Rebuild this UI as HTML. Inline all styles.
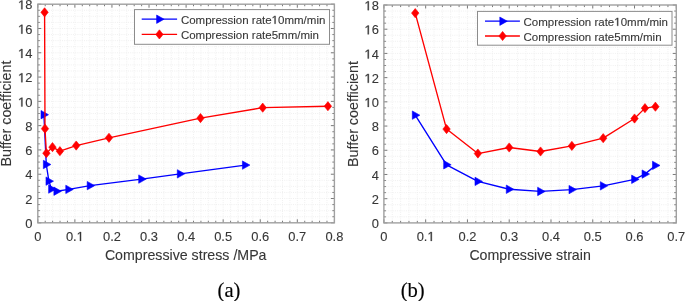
<!DOCTYPE html>
<html><head><meta charset="utf-8"><style>
html,body{margin:0;padding:0;background:#fff;}
body{width:685px;height:301px;overflow:hidden;}
svg{display:block;filter:blur(0.35px);}
.g{stroke:#ececec;stroke-width:0.8;stroke-dasharray:1 1.2;}
.t{stroke:#7a7a7a;stroke-width:1;}
.box{fill:none;stroke:#a0a0a0;stroke-width:1.4;}
.lg{stroke:#8c8c8c;stroke-width:1;}
text{font-family:"Liberation Sans", sans-serif;fill:#363636;stroke:#363636;stroke-width:0.1px;}
.tl{font-size:12.9px;}
.al{font-size:14.2px;}
.yl{font-size:14.3px;}
.lt{font-size:11.5px;}
.one{fill:#363636;stroke:#363636;}
.h{fill:transparent;stroke:none;}
.cap{font-family:"Liberation Serif", serif;font-size:20.6px;fill:#000;stroke:#000;stroke-width:0.15px;}
</style></head><body>
<svg width="685" height="301" viewBox="0 0 685 301">
<line x1="45.21" y1="4.20" x2="45.21" y2="222.80" class="g"/>
<line x1="52.63" y1="4.20" x2="52.63" y2="222.80" class="g"/>
<line x1="60.04" y1="4.20" x2="60.04" y2="222.80" class="g"/>
<line x1="67.46" y1="4.20" x2="67.46" y2="222.80" class="g"/>
<line x1="74.88" y1="4.20" x2="74.88" y2="222.80" class="g"/>
<line x1="82.29" y1="4.20" x2="82.29" y2="222.80" class="g"/>
<line x1="89.70" y1="4.20" x2="89.70" y2="222.80" class="g"/>
<line x1="97.12" y1="4.20" x2="97.12" y2="222.80" class="g"/>
<line x1="104.53" y1="4.20" x2="104.53" y2="222.80" class="g"/>
<line x1="111.95" y1="4.20" x2="111.95" y2="222.80" class="g"/>
<line x1="119.36" y1="4.20" x2="119.36" y2="222.80" class="g"/>
<line x1="126.78" y1="4.20" x2="126.78" y2="222.80" class="g"/>
<line x1="134.19" y1="4.20" x2="134.19" y2="222.80" class="g"/>
<line x1="141.61" y1="4.20" x2="141.61" y2="222.80" class="g"/>
<line x1="149.02" y1="4.20" x2="149.02" y2="222.80" class="g"/>
<line x1="156.44" y1="4.20" x2="156.44" y2="222.80" class="g"/>
<line x1="163.85" y1="4.20" x2="163.85" y2="222.80" class="g"/>
<line x1="171.27" y1="4.20" x2="171.27" y2="222.80" class="g"/>
<line x1="178.69" y1="4.20" x2="178.69" y2="222.80" class="g"/>
<line x1="186.10" y1="4.20" x2="186.10" y2="222.80" class="g"/>
<line x1="193.51" y1="4.20" x2="193.51" y2="222.80" class="g"/>
<line x1="200.93" y1="4.20" x2="200.93" y2="222.80" class="g"/>
<line x1="208.34" y1="4.20" x2="208.34" y2="222.80" class="g"/>
<line x1="215.76" y1="4.20" x2="215.76" y2="222.80" class="g"/>
<line x1="223.17" y1="4.20" x2="223.17" y2="222.80" class="g"/>
<line x1="230.59" y1="4.20" x2="230.59" y2="222.80" class="g"/>
<line x1="238.00" y1="4.20" x2="238.00" y2="222.80" class="g"/>
<line x1="245.42" y1="4.20" x2="245.42" y2="222.80" class="g"/>
<line x1="252.83" y1="4.20" x2="252.83" y2="222.80" class="g"/>
<line x1="260.25" y1="4.20" x2="260.25" y2="222.80" class="g"/>
<line x1="267.66" y1="4.20" x2="267.66" y2="222.80" class="g"/>
<line x1="275.08" y1="4.20" x2="275.08" y2="222.80" class="g"/>
<line x1="282.49" y1="4.20" x2="282.49" y2="222.80" class="g"/>
<line x1="289.91" y1="4.20" x2="289.91" y2="222.80" class="g"/>
<line x1="297.32" y1="4.20" x2="297.32" y2="222.80" class="g"/>
<line x1="304.74" y1="4.20" x2="304.74" y2="222.80" class="g"/>
<line x1="312.15" y1="4.20" x2="312.15" y2="222.80" class="g"/>
<line x1="319.57" y1="4.20" x2="319.57" y2="222.80" class="g"/>
<line x1="326.98" y1="4.20" x2="326.98" y2="222.80" class="g"/>
<line x1="37.80" y1="216.73" x2="334.40" y2="216.73" class="g"/>
<line x1="37.80" y1="210.66" x2="334.40" y2="210.66" class="g"/>
<line x1="37.80" y1="204.58" x2="334.40" y2="204.58" class="g"/>
<line x1="37.80" y1="198.51" x2="334.40" y2="198.51" class="g"/>
<line x1="37.80" y1="192.44" x2="334.40" y2="192.44" class="g"/>
<line x1="37.80" y1="186.37" x2="334.40" y2="186.37" class="g"/>
<line x1="37.80" y1="180.29" x2="334.40" y2="180.29" class="g"/>
<line x1="37.80" y1="174.22" x2="334.40" y2="174.22" class="g"/>
<line x1="37.80" y1="168.15" x2="334.40" y2="168.15" class="g"/>
<line x1="37.80" y1="162.08" x2="334.40" y2="162.08" class="g"/>
<line x1="37.80" y1="156.01" x2="334.40" y2="156.01" class="g"/>
<line x1="37.80" y1="149.93" x2="334.40" y2="149.93" class="g"/>
<line x1="37.80" y1="143.86" x2="334.40" y2="143.86" class="g"/>
<line x1="37.80" y1="137.79" x2="334.40" y2="137.79" class="g"/>
<line x1="37.80" y1="131.72" x2="334.40" y2="131.72" class="g"/>
<line x1="37.80" y1="125.64" x2="334.40" y2="125.64" class="g"/>
<line x1="37.80" y1="119.57" x2="334.40" y2="119.57" class="g"/>
<line x1="37.80" y1="113.50" x2="334.40" y2="113.50" class="g"/>
<line x1="37.80" y1="107.43" x2="334.40" y2="107.43" class="g"/>
<line x1="37.80" y1="101.36" x2="334.40" y2="101.36" class="g"/>
<line x1="37.80" y1="95.28" x2="334.40" y2="95.28" class="g"/>
<line x1="37.80" y1="89.21" x2="334.40" y2="89.21" class="g"/>
<line x1="37.80" y1="83.14" x2="334.40" y2="83.14" class="g"/>
<line x1="37.80" y1="77.07" x2="334.40" y2="77.07" class="g"/>
<line x1="37.80" y1="70.99" x2="334.40" y2="70.99" class="g"/>
<line x1="37.80" y1="64.92" x2="334.40" y2="64.92" class="g"/>
<line x1="37.80" y1="58.85" x2="334.40" y2="58.85" class="g"/>
<line x1="37.80" y1="52.78" x2="334.40" y2="52.78" class="g"/>
<line x1="37.80" y1="46.71" x2="334.40" y2="46.71" class="g"/>
<line x1="37.80" y1="40.63" x2="334.40" y2="40.63" class="g"/>
<line x1="37.80" y1="34.56" x2="334.40" y2="34.56" class="g"/>
<line x1="37.80" y1="28.49" x2="334.40" y2="28.49" class="g"/>
<line x1="37.80" y1="22.42" x2="334.40" y2="22.42" class="g"/>
<line x1="37.80" y1="16.34" x2="334.40" y2="16.34" class="g"/>
<line x1="37.80" y1="10.27" x2="334.40" y2="10.27" class="g"/>
<line x1="37.80" y1="222.80" x2="37.80" y2="219.30" class="t"/>
<line x1="37.80" y1="4.20" x2="37.80" y2="7.70" class="t"/>
<line x1="45.21" y1="222.80" x2="45.21" y2="220.80" class="t"/>
<line x1="45.21" y1="4.20" x2="45.21" y2="6.20" class="t"/>
<line x1="52.63" y1="222.80" x2="52.63" y2="220.80" class="t"/>
<line x1="52.63" y1="4.20" x2="52.63" y2="6.20" class="t"/>
<line x1="60.04" y1="222.80" x2="60.04" y2="220.80" class="t"/>
<line x1="60.04" y1="4.20" x2="60.04" y2="6.20" class="t"/>
<line x1="67.46" y1="222.80" x2="67.46" y2="220.80" class="t"/>
<line x1="67.46" y1="4.20" x2="67.46" y2="6.20" class="t"/>
<line x1="74.88" y1="222.80" x2="74.88" y2="219.30" class="t"/>
<line x1="74.88" y1="4.20" x2="74.88" y2="7.70" class="t"/>
<line x1="82.29" y1="222.80" x2="82.29" y2="220.80" class="t"/>
<line x1="82.29" y1="4.20" x2="82.29" y2="6.20" class="t"/>
<line x1="89.70" y1="222.80" x2="89.70" y2="220.80" class="t"/>
<line x1="89.70" y1="4.20" x2="89.70" y2="6.20" class="t"/>
<line x1="97.12" y1="222.80" x2="97.12" y2="220.80" class="t"/>
<line x1="97.12" y1="4.20" x2="97.12" y2="6.20" class="t"/>
<line x1="104.53" y1="222.80" x2="104.53" y2="220.80" class="t"/>
<line x1="104.53" y1="4.20" x2="104.53" y2="6.20" class="t"/>
<line x1="111.95" y1="222.80" x2="111.95" y2="219.30" class="t"/>
<line x1="111.95" y1="4.20" x2="111.95" y2="7.70" class="t"/>
<line x1="119.36" y1="222.80" x2="119.36" y2="220.80" class="t"/>
<line x1="119.36" y1="4.20" x2="119.36" y2="6.20" class="t"/>
<line x1="126.78" y1="222.80" x2="126.78" y2="220.80" class="t"/>
<line x1="126.78" y1="4.20" x2="126.78" y2="6.20" class="t"/>
<line x1="134.19" y1="222.80" x2="134.19" y2="220.80" class="t"/>
<line x1="134.19" y1="4.20" x2="134.19" y2="6.20" class="t"/>
<line x1="141.61" y1="222.80" x2="141.61" y2="220.80" class="t"/>
<line x1="141.61" y1="4.20" x2="141.61" y2="6.20" class="t"/>
<line x1="149.02" y1="222.80" x2="149.02" y2="219.30" class="t"/>
<line x1="149.02" y1="4.20" x2="149.02" y2="7.70" class="t"/>
<line x1="156.44" y1="222.80" x2="156.44" y2="220.80" class="t"/>
<line x1="156.44" y1="4.20" x2="156.44" y2="6.20" class="t"/>
<line x1="163.85" y1="222.80" x2="163.85" y2="220.80" class="t"/>
<line x1="163.85" y1="4.20" x2="163.85" y2="6.20" class="t"/>
<line x1="171.27" y1="222.80" x2="171.27" y2="220.80" class="t"/>
<line x1="171.27" y1="4.20" x2="171.27" y2="6.20" class="t"/>
<line x1="178.69" y1="222.80" x2="178.69" y2="220.80" class="t"/>
<line x1="178.69" y1="4.20" x2="178.69" y2="6.20" class="t"/>
<line x1="186.10" y1="222.80" x2="186.10" y2="219.30" class="t"/>
<line x1="186.10" y1="4.20" x2="186.10" y2="7.70" class="t"/>
<line x1="193.51" y1="222.80" x2="193.51" y2="220.80" class="t"/>
<line x1="193.51" y1="4.20" x2="193.51" y2="6.20" class="t"/>
<line x1="200.93" y1="222.80" x2="200.93" y2="220.80" class="t"/>
<line x1="200.93" y1="4.20" x2="200.93" y2="6.20" class="t"/>
<line x1="208.34" y1="222.80" x2="208.34" y2="220.80" class="t"/>
<line x1="208.34" y1="4.20" x2="208.34" y2="6.20" class="t"/>
<line x1="215.76" y1="222.80" x2="215.76" y2="220.80" class="t"/>
<line x1="215.76" y1="4.20" x2="215.76" y2="6.20" class="t"/>
<line x1="223.17" y1="222.80" x2="223.17" y2="219.30" class="t"/>
<line x1="223.17" y1="4.20" x2="223.17" y2="7.70" class="t"/>
<line x1="230.59" y1="222.80" x2="230.59" y2="220.80" class="t"/>
<line x1="230.59" y1="4.20" x2="230.59" y2="6.20" class="t"/>
<line x1="238.00" y1="222.80" x2="238.00" y2="220.80" class="t"/>
<line x1="238.00" y1="4.20" x2="238.00" y2="6.20" class="t"/>
<line x1="245.42" y1="222.80" x2="245.42" y2="220.80" class="t"/>
<line x1="245.42" y1="4.20" x2="245.42" y2="6.20" class="t"/>
<line x1="252.83" y1="222.80" x2="252.83" y2="220.80" class="t"/>
<line x1="252.83" y1="4.20" x2="252.83" y2="6.20" class="t"/>
<line x1="260.25" y1="222.80" x2="260.25" y2="219.30" class="t"/>
<line x1="260.25" y1="4.20" x2="260.25" y2="7.70" class="t"/>
<line x1="267.66" y1="222.80" x2="267.66" y2="220.80" class="t"/>
<line x1="267.66" y1="4.20" x2="267.66" y2="6.20" class="t"/>
<line x1="275.08" y1="222.80" x2="275.08" y2="220.80" class="t"/>
<line x1="275.08" y1="4.20" x2="275.08" y2="6.20" class="t"/>
<line x1="282.49" y1="222.80" x2="282.49" y2="220.80" class="t"/>
<line x1="282.49" y1="4.20" x2="282.49" y2="6.20" class="t"/>
<line x1="289.91" y1="222.80" x2="289.91" y2="220.80" class="t"/>
<line x1="289.91" y1="4.20" x2="289.91" y2="6.20" class="t"/>
<line x1="297.32" y1="222.80" x2="297.32" y2="219.30" class="t"/>
<line x1="297.32" y1="4.20" x2="297.32" y2="7.70" class="t"/>
<line x1="304.74" y1="222.80" x2="304.74" y2="220.80" class="t"/>
<line x1="304.74" y1="4.20" x2="304.74" y2="6.20" class="t"/>
<line x1="312.15" y1="222.80" x2="312.15" y2="220.80" class="t"/>
<line x1="312.15" y1="4.20" x2="312.15" y2="6.20" class="t"/>
<line x1="319.57" y1="222.80" x2="319.57" y2="220.80" class="t"/>
<line x1="319.57" y1="4.20" x2="319.57" y2="6.20" class="t"/>
<line x1="326.98" y1="222.80" x2="326.98" y2="220.80" class="t"/>
<line x1="326.98" y1="4.20" x2="326.98" y2="6.20" class="t"/>
<line x1="334.40" y1="222.80" x2="334.40" y2="219.30" class="t"/>
<line x1="334.40" y1="4.20" x2="334.40" y2="7.70" class="t"/>
<line x1="37.80" y1="222.80" x2="41.30" y2="222.80" class="t"/>
<line x1="334.40" y1="222.80" x2="330.90" y2="222.80" class="t"/>
<line x1="37.80" y1="216.73" x2="39.80" y2="216.73" class="t"/>
<line x1="334.40" y1="216.73" x2="332.40" y2="216.73" class="t"/>
<line x1="37.80" y1="210.66" x2="39.80" y2="210.66" class="t"/>
<line x1="334.40" y1="210.66" x2="332.40" y2="210.66" class="t"/>
<line x1="37.80" y1="204.58" x2="39.80" y2="204.58" class="t"/>
<line x1="334.40" y1="204.58" x2="332.40" y2="204.58" class="t"/>
<line x1="37.80" y1="198.51" x2="41.30" y2="198.51" class="t"/>
<line x1="334.40" y1="198.51" x2="330.90" y2="198.51" class="t"/>
<line x1="37.80" y1="192.44" x2="39.80" y2="192.44" class="t"/>
<line x1="334.40" y1="192.44" x2="332.40" y2="192.44" class="t"/>
<line x1="37.80" y1="186.37" x2="39.80" y2="186.37" class="t"/>
<line x1="334.40" y1="186.37" x2="332.40" y2="186.37" class="t"/>
<line x1="37.80" y1="180.29" x2="39.80" y2="180.29" class="t"/>
<line x1="334.40" y1="180.29" x2="332.40" y2="180.29" class="t"/>
<line x1="37.80" y1="174.22" x2="41.30" y2="174.22" class="t"/>
<line x1="334.40" y1="174.22" x2="330.90" y2="174.22" class="t"/>
<line x1="37.80" y1="168.15" x2="39.80" y2="168.15" class="t"/>
<line x1="334.40" y1="168.15" x2="332.40" y2="168.15" class="t"/>
<line x1="37.80" y1="162.08" x2="39.80" y2="162.08" class="t"/>
<line x1="334.40" y1="162.08" x2="332.40" y2="162.08" class="t"/>
<line x1="37.80" y1="156.01" x2="39.80" y2="156.01" class="t"/>
<line x1="334.40" y1="156.01" x2="332.40" y2="156.01" class="t"/>
<line x1="37.80" y1="149.93" x2="41.30" y2="149.93" class="t"/>
<line x1="334.40" y1="149.93" x2="330.90" y2="149.93" class="t"/>
<line x1="37.80" y1="143.86" x2="39.80" y2="143.86" class="t"/>
<line x1="334.40" y1="143.86" x2="332.40" y2="143.86" class="t"/>
<line x1="37.80" y1="137.79" x2="39.80" y2="137.79" class="t"/>
<line x1="334.40" y1="137.79" x2="332.40" y2="137.79" class="t"/>
<line x1="37.80" y1="131.72" x2="39.80" y2="131.72" class="t"/>
<line x1="334.40" y1="131.72" x2="332.40" y2="131.72" class="t"/>
<line x1="37.80" y1="125.64" x2="41.30" y2="125.64" class="t"/>
<line x1="334.40" y1="125.64" x2="330.90" y2="125.64" class="t"/>
<line x1="37.80" y1="119.57" x2="39.80" y2="119.57" class="t"/>
<line x1="334.40" y1="119.57" x2="332.40" y2="119.57" class="t"/>
<line x1="37.80" y1="113.50" x2="39.80" y2="113.50" class="t"/>
<line x1="334.40" y1="113.50" x2="332.40" y2="113.50" class="t"/>
<line x1="37.80" y1="107.43" x2="39.80" y2="107.43" class="t"/>
<line x1="334.40" y1="107.43" x2="332.40" y2="107.43" class="t"/>
<line x1="37.80" y1="101.36" x2="41.30" y2="101.36" class="t"/>
<line x1="334.40" y1="101.36" x2="330.90" y2="101.36" class="t"/>
<line x1="37.80" y1="95.28" x2="39.80" y2="95.28" class="t"/>
<line x1="334.40" y1="95.28" x2="332.40" y2="95.28" class="t"/>
<line x1="37.80" y1="89.21" x2="39.80" y2="89.21" class="t"/>
<line x1="334.40" y1="89.21" x2="332.40" y2="89.21" class="t"/>
<line x1="37.80" y1="83.14" x2="39.80" y2="83.14" class="t"/>
<line x1="334.40" y1="83.14" x2="332.40" y2="83.14" class="t"/>
<line x1="37.80" y1="77.07" x2="41.30" y2="77.07" class="t"/>
<line x1="334.40" y1="77.07" x2="330.90" y2="77.07" class="t"/>
<line x1="37.80" y1="70.99" x2="39.80" y2="70.99" class="t"/>
<line x1="334.40" y1="70.99" x2="332.40" y2="70.99" class="t"/>
<line x1="37.80" y1="64.92" x2="39.80" y2="64.92" class="t"/>
<line x1="334.40" y1="64.92" x2="332.40" y2="64.92" class="t"/>
<line x1="37.80" y1="58.85" x2="39.80" y2="58.85" class="t"/>
<line x1="334.40" y1="58.85" x2="332.40" y2="58.85" class="t"/>
<line x1="37.80" y1="52.78" x2="41.30" y2="52.78" class="t"/>
<line x1="334.40" y1="52.78" x2="330.90" y2="52.78" class="t"/>
<line x1="37.80" y1="46.71" x2="39.80" y2="46.71" class="t"/>
<line x1="334.40" y1="46.71" x2="332.40" y2="46.71" class="t"/>
<line x1="37.80" y1="40.63" x2="39.80" y2="40.63" class="t"/>
<line x1="334.40" y1="40.63" x2="332.40" y2="40.63" class="t"/>
<line x1="37.80" y1="34.56" x2="39.80" y2="34.56" class="t"/>
<line x1="334.40" y1="34.56" x2="332.40" y2="34.56" class="t"/>
<line x1="37.80" y1="28.49" x2="41.30" y2="28.49" class="t"/>
<line x1="334.40" y1="28.49" x2="330.90" y2="28.49" class="t"/>
<line x1="37.80" y1="22.42" x2="39.80" y2="22.42" class="t"/>
<line x1="334.40" y1="22.42" x2="332.40" y2="22.42" class="t"/>
<line x1="37.80" y1="16.34" x2="39.80" y2="16.34" class="t"/>
<line x1="334.40" y1="16.34" x2="332.40" y2="16.34" class="t"/>
<line x1="37.80" y1="10.27" x2="39.80" y2="10.27" class="t"/>
<line x1="334.40" y1="10.27" x2="332.40" y2="10.27" class="t"/>
<line x1="37.80" y1="4.20" x2="41.30" y2="4.20" class="t"/>
<line x1="334.40" y1="4.20" x2="330.90" y2="4.20" class="t"/>
<rect x="37.80" y="4.20" width="296.60" height="218.60" class="box"/>
<text x="37.80" y="240.9" class="tl" text-anchor="middle">0</text>
<text id="t1" x="74.88" y="240.9" class="tl" text-anchor="middle">0.<tspan class="h">1</tspan></text>
<text x="111.95" y="240.9" class="tl" text-anchor="middle">0.2</text>
<text x="149.03" y="240.9" class="tl" text-anchor="middle">0.3</text>
<text x="186.10" y="240.9" class="tl" text-anchor="middle">0.4</text>
<text x="223.17" y="240.9" class="tl" text-anchor="middle">0.5</text>
<text x="260.25" y="240.9" class="tl" text-anchor="middle">0.6</text>
<text x="297.32" y="240.9" class="tl" text-anchor="middle">0.7</text>
<text x="334.40" y="240.9" class="tl" text-anchor="middle">0.8</text>
<text x="32.40" y="227.95" class="tl" text-anchor="end">0</text>
<text x="32.40" y="203.66" class="tl" text-anchor="end">2</text>
<text x="32.40" y="179.37" class="tl" text-anchor="end">4</text>
<text x="32.40" y="155.08" class="tl" text-anchor="end">6</text>
<text x="32.40" y="130.79" class="tl" text-anchor="end">8</text>
<text id="t2" x="32.40" y="106.51" class="tl" text-anchor="end"><tspan class="h">1</tspan>0</text>
<text id="t3" x="32.40" y="82.22" class="tl" text-anchor="end"><tspan class="h">1</tspan>2</text>
<text id="t4" x="32.40" y="57.93" class="tl" text-anchor="end"><tspan class="h">1</tspan>4</text>
<text id="t5" x="32.40" y="33.64" class="tl" text-anchor="end"><tspan class="h">1</tspan>6</text>
<text id="t6" x="32.40" y="9.35" class="tl" text-anchor="end"><tspan class="h">1</tspan>8</text>
<path d="M43.90 114.71 L46.29 164.51 L48.89 181.14 L51.52 189.04 L56.78 191.22 L68.68 189.40 L90.11 185.64 L141.61 179.08 L180.21 173.86 L245.31 165.11" fill="none" stroke="#0000ff" stroke-width="1.35" stroke-linejoin="round"/>
<path d="M41.00 110.51L48.50 114.71L41.00 118.91Z" fill="#0000ff" stroke="#0000ff" stroke-width="0.6"/>
<path d="M43.39 160.31L50.89 164.51L43.39 168.71Z" fill="#0000ff" stroke="#0000ff" stroke-width="0.6"/>
<path d="M45.99 176.94L53.49 181.14L45.99 185.34Z" fill="#0000ff" stroke="#0000ff" stroke-width="0.6"/>
<path d="M48.62 184.84L56.12 189.04L48.62 193.24Z" fill="#0000ff" stroke="#0000ff" stroke-width="0.6"/>
<path d="M53.88 187.02L61.38 191.22L53.88 195.42Z" fill="#0000ff" stroke="#0000ff" stroke-width="0.6"/>
<path d="M65.78 185.20L73.28 189.40L65.78 193.60Z" fill="#0000ff" stroke="#0000ff" stroke-width="0.6"/>
<path d="M87.21 181.44L94.71 185.64L87.21 189.84Z" fill="#0000ff" stroke="#0000ff" stroke-width="0.6"/>
<path d="M138.71 174.88L146.21 179.08L138.71 183.28Z" fill="#0000ff" stroke="#0000ff" stroke-width="0.6"/>
<path d="M177.31 169.66L184.81 173.86L177.31 178.06Z" fill="#0000ff" stroke="#0000ff" stroke-width="0.6"/>
<path d="M242.41 160.91L249.91 165.11L242.41 169.31Z" fill="#0000ff" stroke="#0000ff" stroke-width="0.6"/>
<path d="M44.58 12.34 L44.99 128.68 L46.40 153.21 L52.48 147.14 L59.90 151.15 L76.21 145.56 L108.98 137.79 L200.49 118.11 L262.70 107.67 L327.91 106.21" fill="none" stroke="#ff0000" stroke-width="1.35" stroke-linejoin="round"/>
<path d="M44.58 7.74L48.28 12.34L44.58 16.94L40.88 12.34Z" fill="#ff0000" stroke="#ff0000" stroke-width="0.6"/>
<path d="M44.99 124.08L48.69 128.68L44.99 133.28L41.29 128.68Z" fill="#ff0000" stroke="#ff0000" stroke-width="0.6"/>
<path d="M46.40 148.61L50.10 153.21L46.40 157.81L42.70 153.21Z" fill="#ff0000" stroke="#ff0000" stroke-width="0.6"/>
<path d="M52.48 142.54L56.18 147.14L52.48 151.74L48.78 147.14Z" fill="#ff0000" stroke="#ff0000" stroke-width="0.6"/>
<path d="M59.90 146.55L63.60 151.15L59.90 155.75L56.20 151.15Z" fill="#ff0000" stroke="#ff0000" stroke-width="0.6"/>
<path d="M76.21 140.96L79.91 145.56L76.21 150.16L72.51 145.56Z" fill="#ff0000" stroke="#ff0000" stroke-width="0.6"/>
<path d="M108.98 133.19L112.68 137.79L108.98 142.39L105.28 137.79Z" fill="#ff0000" stroke="#ff0000" stroke-width="0.6"/>
<path d="M200.49 113.51L204.19 118.11L200.49 122.71L196.79 118.11Z" fill="#ff0000" stroke="#ff0000" stroke-width="0.6"/>
<path d="M262.70 103.07L266.40 107.67L262.70 112.27L259.00 107.67Z" fill="#ff0000" stroke="#ff0000" stroke-width="0.6"/>
<path d="M327.91 101.61L331.61 106.21L327.91 110.81L324.21 106.21Z" fill="#ff0000" stroke="#ff0000" stroke-width="0.6"/>
<rect x="134.5" y="9.6" width="195.00" height="34.70" fill="#fff" class="lg"/>
<line x1="141.7" y1="19.2" x2="177.1" y2="19.2" stroke="#0000ff" stroke-width="1.3"/>
<path d="M156.60 15.00L164.10 19.20L156.60 23.40Z" fill="#0000ff" stroke="#0000ff" stroke-width="0.6"/>
<line x1="141.7" y1="34.4" x2="177.1" y2="34.4" stroke="#ff0000" stroke-width="1.3"/>
<path d="M159.40 29.80L163.10 34.40L159.40 39.00L155.70 34.40Z" fill="#ff0000" stroke="#ff0000" stroke-width="0.6"/>
<text id="t7" x="180.9" y="23.80" class="lt">Compression rate<tspan class="h">1</tspan>0mm/min</text>
<text x="180.9" y="39.00" class="lt">Compression rate5mm/min</text>
<line x1="392.25" y1="5.00" x2="392.25" y2="222.90" class="g"/>
<line x1="400.61" y1="5.00" x2="400.61" y2="222.90" class="g"/>
<line x1="408.96" y1="5.00" x2="408.96" y2="222.90" class="g"/>
<line x1="417.32" y1="5.00" x2="417.32" y2="222.90" class="g"/>
<line x1="425.67" y1="5.00" x2="425.67" y2="222.90" class="g"/>
<line x1="434.03" y1="5.00" x2="434.03" y2="222.90" class="g"/>
<line x1="442.38" y1="5.00" x2="442.38" y2="222.90" class="g"/>
<line x1="450.73" y1="5.00" x2="450.73" y2="222.90" class="g"/>
<line x1="459.09" y1="5.00" x2="459.09" y2="222.90" class="g"/>
<line x1="467.44" y1="5.00" x2="467.44" y2="222.90" class="g"/>
<line x1="475.80" y1="5.00" x2="475.80" y2="222.90" class="g"/>
<line x1="484.15" y1="5.00" x2="484.15" y2="222.90" class="g"/>
<line x1="492.51" y1="5.00" x2="492.51" y2="222.90" class="g"/>
<line x1="500.86" y1="5.00" x2="500.86" y2="222.90" class="g"/>
<line x1="509.21" y1="5.00" x2="509.21" y2="222.90" class="g"/>
<line x1="517.57" y1="5.00" x2="517.57" y2="222.90" class="g"/>
<line x1="525.92" y1="5.00" x2="525.92" y2="222.90" class="g"/>
<line x1="534.28" y1="5.00" x2="534.28" y2="222.90" class="g"/>
<line x1="542.63" y1="5.00" x2="542.63" y2="222.90" class="g"/>
<line x1="550.99" y1="5.00" x2="550.99" y2="222.90" class="g"/>
<line x1="559.34" y1="5.00" x2="559.34" y2="222.90" class="g"/>
<line x1="567.69" y1="5.00" x2="567.69" y2="222.90" class="g"/>
<line x1="576.05" y1="5.00" x2="576.05" y2="222.90" class="g"/>
<line x1="584.40" y1="5.00" x2="584.40" y2="222.90" class="g"/>
<line x1="592.76" y1="5.00" x2="592.76" y2="222.90" class="g"/>
<line x1="601.11" y1="5.00" x2="601.11" y2="222.90" class="g"/>
<line x1="609.47" y1="5.00" x2="609.47" y2="222.90" class="g"/>
<line x1="617.82" y1="5.00" x2="617.82" y2="222.90" class="g"/>
<line x1="626.17" y1="5.00" x2="626.17" y2="222.90" class="g"/>
<line x1="634.53" y1="5.00" x2="634.53" y2="222.90" class="g"/>
<line x1="642.88" y1="5.00" x2="642.88" y2="222.90" class="g"/>
<line x1="651.24" y1="5.00" x2="651.24" y2="222.90" class="g"/>
<line x1="659.59" y1="5.00" x2="659.59" y2="222.90" class="g"/>
<line x1="667.95" y1="5.00" x2="667.95" y2="222.90" class="g"/>
<line x1="383.90" y1="216.85" x2="676.30" y2="216.85" class="g"/>
<line x1="383.90" y1="210.79" x2="676.30" y2="210.79" class="g"/>
<line x1="383.90" y1="204.74" x2="676.30" y2="204.74" class="g"/>
<line x1="383.90" y1="198.69" x2="676.30" y2="198.69" class="g"/>
<line x1="383.90" y1="192.64" x2="676.30" y2="192.64" class="g"/>
<line x1="383.90" y1="186.58" x2="676.30" y2="186.58" class="g"/>
<line x1="383.90" y1="180.53" x2="676.30" y2="180.53" class="g"/>
<line x1="383.90" y1="174.48" x2="676.30" y2="174.48" class="g"/>
<line x1="383.90" y1="168.43" x2="676.30" y2="168.43" class="g"/>
<line x1="383.90" y1="162.37" x2="676.30" y2="162.37" class="g"/>
<line x1="383.90" y1="156.32" x2="676.30" y2="156.32" class="g"/>
<line x1="383.90" y1="150.27" x2="676.30" y2="150.27" class="g"/>
<line x1="383.90" y1="144.21" x2="676.30" y2="144.21" class="g"/>
<line x1="383.90" y1="138.16" x2="676.30" y2="138.16" class="g"/>
<line x1="383.90" y1="132.11" x2="676.30" y2="132.11" class="g"/>
<line x1="383.90" y1="126.06" x2="676.30" y2="126.06" class="g"/>
<line x1="383.90" y1="120.00" x2="676.30" y2="120.00" class="g"/>
<line x1="383.90" y1="113.95" x2="676.30" y2="113.95" class="g"/>
<line x1="383.90" y1="107.90" x2="676.30" y2="107.90" class="g"/>
<line x1="383.90" y1="101.84" x2="676.30" y2="101.84" class="g"/>
<line x1="383.90" y1="95.79" x2="676.30" y2="95.79" class="g"/>
<line x1="383.90" y1="89.74" x2="676.30" y2="89.74" class="g"/>
<line x1="383.90" y1="83.69" x2="676.30" y2="83.69" class="g"/>
<line x1="383.90" y1="77.63" x2="676.30" y2="77.63" class="g"/>
<line x1="383.90" y1="71.58" x2="676.30" y2="71.58" class="g"/>
<line x1="383.90" y1="65.53" x2="676.30" y2="65.53" class="g"/>
<line x1="383.90" y1="59.47" x2="676.30" y2="59.47" class="g"/>
<line x1="383.90" y1="53.42" x2="676.30" y2="53.42" class="g"/>
<line x1="383.90" y1="47.37" x2="676.30" y2="47.37" class="g"/>
<line x1="383.90" y1="41.32" x2="676.30" y2="41.32" class="g"/>
<line x1="383.90" y1="35.26" x2="676.30" y2="35.26" class="g"/>
<line x1="383.90" y1="29.21" x2="676.30" y2="29.21" class="g"/>
<line x1="383.90" y1="23.16" x2="676.30" y2="23.16" class="g"/>
<line x1="383.90" y1="17.11" x2="676.30" y2="17.11" class="g"/>
<line x1="383.90" y1="11.05" x2="676.30" y2="11.05" class="g"/>
<line x1="383.90" y1="222.90" x2="383.90" y2="219.40" class="t"/>
<line x1="383.90" y1="5.00" x2="383.90" y2="8.50" class="t"/>
<line x1="392.25" y1="222.90" x2="392.25" y2="220.90" class="t"/>
<line x1="392.25" y1="5.00" x2="392.25" y2="7.00" class="t"/>
<line x1="400.61" y1="222.90" x2="400.61" y2="220.90" class="t"/>
<line x1="400.61" y1="5.00" x2="400.61" y2="7.00" class="t"/>
<line x1="408.96" y1="222.90" x2="408.96" y2="220.90" class="t"/>
<line x1="408.96" y1="5.00" x2="408.96" y2="7.00" class="t"/>
<line x1="417.32" y1="222.90" x2="417.32" y2="220.90" class="t"/>
<line x1="417.32" y1="5.00" x2="417.32" y2="7.00" class="t"/>
<line x1="425.67" y1="222.90" x2="425.67" y2="219.40" class="t"/>
<line x1="425.67" y1="5.00" x2="425.67" y2="8.50" class="t"/>
<line x1="434.03" y1="222.90" x2="434.03" y2="220.90" class="t"/>
<line x1="434.03" y1="5.00" x2="434.03" y2="7.00" class="t"/>
<line x1="442.38" y1="222.90" x2="442.38" y2="220.90" class="t"/>
<line x1="442.38" y1="5.00" x2="442.38" y2="7.00" class="t"/>
<line x1="450.73" y1="222.90" x2="450.73" y2="220.90" class="t"/>
<line x1="450.73" y1="5.00" x2="450.73" y2="7.00" class="t"/>
<line x1="459.09" y1="222.90" x2="459.09" y2="220.90" class="t"/>
<line x1="459.09" y1="5.00" x2="459.09" y2="7.00" class="t"/>
<line x1="467.44" y1="222.90" x2="467.44" y2="219.40" class="t"/>
<line x1="467.44" y1="5.00" x2="467.44" y2="8.50" class="t"/>
<line x1="475.80" y1="222.90" x2="475.80" y2="220.90" class="t"/>
<line x1="475.80" y1="5.00" x2="475.80" y2="7.00" class="t"/>
<line x1="484.15" y1="222.90" x2="484.15" y2="220.90" class="t"/>
<line x1="484.15" y1="5.00" x2="484.15" y2="7.00" class="t"/>
<line x1="492.51" y1="222.90" x2="492.51" y2="220.90" class="t"/>
<line x1="492.51" y1="5.00" x2="492.51" y2="7.00" class="t"/>
<line x1="500.86" y1="222.90" x2="500.86" y2="220.90" class="t"/>
<line x1="500.86" y1="5.00" x2="500.86" y2="7.00" class="t"/>
<line x1="509.21" y1="222.90" x2="509.21" y2="219.40" class="t"/>
<line x1="509.21" y1="5.00" x2="509.21" y2="8.50" class="t"/>
<line x1="517.57" y1="222.90" x2="517.57" y2="220.90" class="t"/>
<line x1="517.57" y1="5.00" x2="517.57" y2="7.00" class="t"/>
<line x1="525.92" y1="222.90" x2="525.92" y2="220.90" class="t"/>
<line x1="525.92" y1="5.00" x2="525.92" y2="7.00" class="t"/>
<line x1="534.28" y1="222.90" x2="534.28" y2="220.90" class="t"/>
<line x1="534.28" y1="5.00" x2="534.28" y2="7.00" class="t"/>
<line x1="542.63" y1="222.90" x2="542.63" y2="220.90" class="t"/>
<line x1="542.63" y1="5.00" x2="542.63" y2="7.00" class="t"/>
<line x1="550.99" y1="222.90" x2="550.99" y2="219.40" class="t"/>
<line x1="550.99" y1="5.00" x2="550.99" y2="8.50" class="t"/>
<line x1="559.34" y1="222.90" x2="559.34" y2="220.90" class="t"/>
<line x1="559.34" y1="5.00" x2="559.34" y2="7.00" class="t"/>
<line x1="567.69" y1="222.90" x2="567.69" y2="220.90" class="t"/>
<line x1="567.69" y1="5.00" x2="567.69" y2="7.00" class="t"/>
<line x1="576.05" y1="222.90" x2="576.05" y2="220.90" class="t"/>
<line x1="576.05" y1="5.00" x2="576.05" y2="7.00" class="t"/>
<line x1="584.40" y1="222.90" x2="584.40" y2="220.90" class="t"/>
<line x1="584.40" y1="5.00" x2="584.40" y2="7.00" class="t"/>
<line x1="592.76" y1="222.90" x2="592.76" y2="219.40" class="t"/>
<line x1="592.76" y1="5.00" x2="592.76" y2="8.50" class="t"/>
<line x1="601.11" y1="222.90" x2="601.11" y2="220.90" class="t"/>
<line x1="601.11" y1="5.00" x2="601.11" y2="7.00" class="t"/>
<line x1="609.47" y1="222.90" x2="609.47" y2="220.90" class="t"/>
<line x1="609.47" y1="5.00" x2="609.47" y2="7.00" class="t"/>
<line x1="617.82" y1="222.90" x2="617.82" y2="220.90" class="t"/>
<line x1="617.82" y1="5.00" x2="617.82" y2="7.00" class="t"/>
<line x1="626.17" y1="222.90" x2="626.17" y2="220.90" class="t"/>
<line x1="626.17" y1="5.00" x2="626.17" y2="7.00" class="t"/>
<line x1="634.53" y1="222.90" x2="634.53" y2="219.40" class="t"/>
<line x1="634.53" y1="5.00" x2="634.53" y2="8.50" class="t"/>
<line x1="642.88" y1="222.90" x2="642.88" y2="220.90" class="t"/>
<line x1="642.88" y1="5.00" x2="642.88" y2="7.00" class="t"/>
<line x1="651.24" y1="222.90" x2="651.24" y2="220.90" class="t"/>
<line x1="651.24" y1="5.00" x2="651.24" y2="7.00" class="t"/>
<line x1="659.59" y1="222.90" x2="659.59" y2="220.90" class="t"/>
<line x1="659.59" y1="5.00" x2="659.59" y2="7.00" class="t"/>
<line x1="667.95" y1="222.90" x2="667.95" y2="220.90" class="t"/>
<line x1="667.95" y1="5.00" x2="667.95" y2="7.00" class="t"/>
<line x1="676.30" y1="222.90" x2="676.30" y2="219.40" class="t"/>
<line x1="676.30" y1="5.00" x2="676.30" y2="8.50" class="t"/>
<line x1="383.90" y1="222.90" x2="387.40" y2="222.90" class="t"/>
<line x1="676.30" y1="222.90" x2="672.80" y2="222.90" class="t"/>
<line x1="383.90" y1="216.85" x2="385.90" y2="216.85" class="t"/>
<line x1="676.30" y1="216.85" x2="674.30" y2="216.85" class="t"/>
<line x1="383.90" y1="210.79" x2="385.90" y2="210.79" class="t"/>
<line x1="676.30" y1="210.79" x2="674.30" y2="210.79" class="t"/>
<line x1="383.90" y1="204.74" x2="385.90" y2="204.74" class="t"/>
<line x1="676.30" y1="204.74" x2="674.30" y2="204.74" class="t"/>
<line x1="383.90" y1="198.69" x2="387.40" y2="198.69" class="t"/>
<line x1="676.30" y1="198.69" x2="672.80" y2="198.69" class="t"/>
<line x1="383.90" y1="192.64" x2="385.90" y2="192.64" class="t"/>
<line x1="676.30" y1="192.64" x2="674.30" y2="192.64" class="t"/>
<line x1="383.90" y1="186.58" x2="385.90" y2="186.58" class="t"/>
<line x1="676.30" y1="186.58" x2="674.30" y2="186.58" class="t"/>
<line x1="383.90" y1="180.53" x2="385.90" y2="180.53" class="t"/>
<line x1="676.30" y1="180.53" x2="674.30" y2="180.53" class="t"/>
<line x1="383.90" y1="174.48" x2="387.40" y2="174.48" class="t"/>
<line x1="676.30" y1="174.48" x2="672.80" y2="174.48" class="t"/>
<line x1="383.90" y1="168.43" x2="385.90" y2="168.43" class="t"/>
<line x1="676.30" y1="168.43" x2="674.30" y2="168.43" class="t"/>
<line x1="383.90" y1="162.37" x2="385.90" y2="162.37" class="t"/>
<line x1="676.30" y1="162.37" x2="674.30" y2="162.37" class="t"/>
<line x1="383.90" y1="156.32" x2="385.90" y2="156.32" class="t"/>
<line x1="676.30" y1="156.32" x2="674.30" y2="156.32" class="t"/>
<line x1="383.90" y1="150.27" x2="387.40" y2="150.27" class="t"/>
<line x1="676.30" y1="150.27" x2="672.80" y2="150.27" class="t"/>
<line x1="383.90" y1="144.21" x2="385.90" y2="144.21" class="t"/>
<line x1="676.30" y1="144.21" x2="674.30" y2="144.21" class="t"/>
<line x1="383.90" y1="138.16" x2="385.90" y2="138.16" class="t"/>
<line x1="676.30" y1="138.16" x2="674.30" y2="138.16" class="t"/>
<line x1="383.90" y1="132.11" x2="385.90" y2="132.11" class="t"/>
<line x1="676.30" y1="132.11" x2="674.30" y2="132.11" class="t"/>
<line x1="383.90" y1="126.06" x2="387.40" y2="126.06" class="t"/>
<line x1="676.30" y1="126.06" x2="672.80" y2="126.06" class="t"/>
<line x1="383.90" y1="120.00" x2="385.90" y2="120.00" class="t"/>
<line x1="676.30" y1="120.00" x2="674.30" y2="120.00" class="t"/>
<line x1="383.90" y1="113.95" x2="385.90" y2="113.95" class="t"/>
<line x1="676.30" y1="113.95" x2="674.30" y2="113.95" class="t"/>
<line x1="383.90" y1="107.90" x2="385.90" y2="107.90" class="t"/>
<line x1="676.30" y1="107.90" x2="674.30" y2="107.90" class="t"/>
<line x1="383.90" y1="101.84" x2="387.40" y2="101.84" class="t"/>
<line x1="676.30" y1="101.84" x2="672.80" y2="101.84" class="t"/>
<line x1="383.90" y1="95.79" x2="385.90" y2="95.79" class="t"/>
<line x1="676.30" y1="95.79" x2="674.30" y2="95.79" class="t"/>
<line x1="383.90" y1="89.74" x2="385.90" y2="89.74" class="t"/>
<line x1="676.30" y1="89.74" x2="674.30" y2="89.74" class="t"/>
<line x1="383.90" y1="83.69" x2="385.90" y2="83.69" class="t"/>
<line x1="676.30" y1="83.69" x2="674.30" y2="83.69" class="t"/>
<line x1="383.90" y1="77.63" x2="387.40" y2="77.63" class="t"/>
<line x1="676.30" y1="77.63" x2="672.80" y2="77.63" class="t"/>
<line x1="383.90" y1="71.58" x2="385.90" y2="71.58" class="t"/>
<line x1="676.30" y1="71.58" x2="674.30" y2="71.58" class="t"/>
<line x1="383.90" y1="65.53" x2="385.90" y2="65.53" class="t"/>
<line x1="676.30" y1="65.53" x2="674.30" y2="65.53" class="t"/>
<line x1="383.90" y1="59.47" x2="385.90" y2="59.47" class="t"/>
<line x1="676.30" y1="59.47" x2="674.30" y2="59.47" class="t"/>
<line x1="383.90" y1="53.42" x2="387.40" y2="53.42" class="t"/>
<line x1="676.30" y1="53.42" x2="672.80" y2="53.42" class="t"/>
<line x1="383.90" y1="47.37" x2="385.90" y2="47.37" class="t"/>
<line x1="676.30" y1="47.37" x2="674.30" y2="47.37" class="t"/>
<line x1="383.90" y1="41.32" x2="385.90" y2="41.32" class="t"/>
<line x1="676.30" y1="41.32" x2="674.30" y2="41.32" class="t"/>
<line x1="383.90" y1="35.26" x2="385.90" y2="35.26" class="t"/>
<line x1="676.30" y1="35.26" x2="674.30" y2="35.26" class="t"/>
<line x1="383.90" y1="29.21" x2="387.40" y2="29.21" class="t"/>
<line x1="676.30" y1="29.21" x2="672.80" y2="29.21" class="t"/>
<line x1="383.90" y1="23.16" x2="385.90" y2="23.16" class="t"/>
<line x1="676.30" y1="23.16" x2="674.30" y2="23.16" class="t"/>
<line x1="383.90" y1="17.11" x2="385.90" y2="17.11" class="t"/>
<line x1="676.30" y1="17.11" x2="674.30" y2="17.11" class="t"/>
<line x1="383.90" y1="11.05" x2="385.90" y2="11.05" class="t"/>
<line x1="676.30" y1="11.05" x2="674.30" y2="11.05" class="t"/>
<line x1="383.90" y1="5.00" x2="387.40" y2="5.00" class="t"/>
<line x1="676.30" y1="5.00" x2="672.80" y2="5.00" class="t"/>
<rect x="383.90" y="5.00" width="292.40" height="217.90" class="box"/>
<text x="383.90" y="240.9" class="tl" text-anchor="middle">0</text>
<text id="t8" x="425.67" y="240.9" class="tl" text-anchor="middle">0.<tspan class="h">1</tspan></text>
<text x="467.44" y="240.9" class="tl" text-anchor="middle">0.2</text>
<text x="509.21" y="240.9" class="tl" text-anchor="middle">0.3</text>
<text x="550.99" y="240.9" class="tl" text-anchor="middle">0.4</text>
<text x="592.76" y="240.9" class="tl" text-anchor="middle">0.5</text>
<text x="634.53" y="240.9" class="tl" text-anchor="middle">0.6</text>
<text x="676.30" y="240.9" class="tl" text-anchor="middle">0.7</text>
<text x="378.80" y="228.05" class="tl" text-anchor="end">0</text>
<text x="378.80" y="203.84" class="tl" text-anchor="end">2</text>
<text x="378.80" y="179.63" class="tl" text-anchor="end">4</text>
<text x="378.80" y="155.42" class="tl" text-anchor="end">6</text>
<text x="378.80" y="131.21" class="tl" text-anchor="end">8</text>
<text id="t9" x="378.80" y="106.99" class="tl" text-anchor="end"><tspan class="h">1</tspan>0</text>
<text id="t10" x="378.80" y="82.78" class="tl" text-anchor="end"><tspan class="h">1</tspan>2</text>
<text id="t11" x="378.80" y="58.57" class="tl" text-anchor="end"><tspan class="h">1</tspan>4</text>
<text id="t12" x="378.80" y="34.36" class="tl" text-anchor="end"><tspan class="h">1</tspan>6</text>
<text id="t13" x="378.80" y="10.15" class="tl" text-anchor="end"><tspan class="h">1</tspan>8</text>
<path d="M415.23 115.16 L446.56 164.79 L477.89 181.38 L509.21 189.25 L540.54 191.43 L571.87 189.61 L603.20 185.86 L634.53 179.32 L644.97 174.11 L655.41 165.40" fill="none" stroke="#0000ff" stroke-width="1.35" stroke-linejoin="round"/>
<path d="M412.33 110.96L419.83 115.16L412.33 119.36Z" fill="#0000ff" stroke="#0000ff" stroke-width="0.6"/>
<path d="M443.66 160.59L451.16 164.79L443.66 168.99Z" fill="#0000ff" stroke="#0000ff" stroke-width="0.6"/>
<path d="M474.99 177.18L482.49 181.38L474.99 185.58Z" fill="#0000ff" stroke="#0000ff" stroke-width="0.6"/>
<path d="M506.31 185.05L513.81 189.25L506.31 193.45Z" fill="#0000ff" stroke="#0000ff" stroke-width="0.6"/>
<path d="M537.64 187.23L545.14 191.43L537.64 195.63Z" fill="#0000ff" stroke="#0000ff" stroke-width="0.6"/>
<path d="M568.97 185.41L576.47 189.61L568.97 193.81Z" fill="#0000ff" stroke="#0000ff" stroke-width="0.6"/>
<path d="M600.30 181.66L607.80 185.86L600.30 190.06Z" fill="#0000ff" stroke="#0000ff" stroke-width="0.6"/>
<path d="M631.63 175.12L639.13 179.32L631.63 183.52Z" fill="#0000ff" stroke="#0000ff" stroke-width="0.6"/>
<path d="M642.07 169.91L649.57 174.11L642.07 178.31Z" fill="#0000ff" stroke="#0000ff" stroke-width="0.6"/>
<path d="M652.51 161.20L660.01 165.40L652.51 169.60Z" fill="#0000ff" stroke="#0000ff" stroke-width="0.6"/>
<path d="M415.23 13.11 L446.56 129.08 L477.89 153.54 L509.21 147.48 L540.54 151.48 L571.87 145.91 L603.20 138.16 L634.53 118.55 L644.97 108.14 L655.41 106.69" fill="none" stroke="#ff0000" stroke-width="1.35" stroke-linejoin="round"/>
<path d="M415.23 8.51L418.93 13.11L415.23 17.71L411.53 13.11Z" fill="#ff0000" stroke="#ff0000" stroke-width="0.6"/>
<path d="M446.56 124.48L450.26 129.08L446.56 133.68L442.86 129.08Z" fill="#ff0000" stroke="#ff0000" stroke-width="0.6"/>
<path d="M477.89 148.94L481.59 153.54L477.89 158.14L474.19 153.54Z" fill="#ff0000" stroke="#ff0000" stroke-width="0.6"/>
<path d="M509.21 142.88L512.91 147.48L509.21 152.08L505.51 147.48Z" fill="#ff0000" stroke="#ff0000" stroke-width="0.6"/>
<path d="M540.54 146.88L544.24 151.48L540.54 156.08L536.84 151.48Z" fill="#ff0000" stroke="#ff0000" stroke-width="0.6"/>
<path d="M571.87 141.31L575.57 145.91L571.87 150.51L568.17 145.91Z" fill="#ff0000" stroke="#ff0000" stroke-width="0.6"/>
<path d="M603.20 133.56L606.90 138.16L603.20 142.76L599.50 138.16Z" fill="#ff0000" stroke="#ff0000" stroke-width="0.6"/>
<path d="M634.53 113.95L638.23 118.55L634.53 123.15L630.83 118.55Z" fill="#ff0000" stroke="#ff0000" stroke-width="0.6"/>
<path d="M644.97 103.54L648.67 108.14L644.97 112.74L641.27 108.14Z" fill="#ff0000" stroke="#ff0000" stroke-width="0.6"/>
<path d="M655.41 102.09L659.11 106.69L655.41 111.29L651.71 106.69Z" fill="#ff0000" stroke="#ff0000" stroke-width="0.6"/>
<rect x="477.5" y="11.4" width="194.50" height="33.80" fill="#fff" class="lg"/>
<line x1="485.0" y1="21.2" x2="519.9" y2="21.2" stroke="#0000ff" stroke-width="1.3"/>
<path d="M499.80 17.00L507.30 21.20L499.80 25.40Z" fill="#0000ff" stroke="#0000ff" stroke-width="0.6"/>
<line x1="485.0" y1="36.0" x2="519.9" y2="36.0" stroke="#ff0000" stroke-width="1.3"/>
<path d="M502.60 31.40L506.30 36.00L502.60 40.60L498.90 36.00Z" fill="#ff0000" stroke="#ff0000" stroke-width="0.6"/>
<text id="t14" x="523.5" y="25.80" class="lt">Compression rate<tspan class="h">1</tspan>0mm/min</text>
<text x="523.5" y="40.60" class="lt">Compression rate5mm/min</text>
<text x="185.7" y="259.8" class="al" text-anchor="middle">Compressive stress /MPa</text>
<text x="530.1" y="259.8" class="al" text-anchor="middle">Compressive strain</text>
<text transform="translate(11.0 113.6) rotate(-90)" class="yl" text-anchor="middle">Buffer coefficient</text>
<text transform="translate(357.7 114.0) rotate(-90)" class="yl" text-anchor="middle">Buffer coefficient</text>
<text x="229" y="297.2" class="cap" text-anchor="middle">(a)</text>
<text x="412.7" y="297.2" class="cap" text-anchor="middle">(b)</text>
<path class="one" d="M515 0L696 0L696 1409L530 1409L197 1180L197 1010L515 1237Z" transform="translate(76.68 240.90) scale(0.006299 -0.006299)" stroke-width="47.6"/>
<path class="one" d="M515 0L696 0L696 1409L530 1409L197 1180L197 1010L515 1237Z" transform="translate(18.06 106.51) scale(0.006299 -0.006299)" stroke-width="47.6"/>
<path class="one" d="M515 0L696 0L696 1409L530 1409L197 1180L197 1010L515 1237Z" transform="translate(18.06 82.22) scale(0.006299 -0.006299)" stroke-width="47.6"/>
<path class="one" d="M515 0L696 0L696 1409L530 1409L197 1180L197 1010L515 1237Z" transform="translate(18.06 57.93) scale(0.006299 -0.006299)" stroke-width="47.6"/>
<path class="one" d="M515 0L696 0L696 1409L530 1409L197 1180L197 1010L515 1237Z" transform="translate(18.06 33.64) scale(0.006299 -0.006299)" stroke-width="47.6"/>
<path class="one" d="M515 0L696 0L696 1409L530 1409L197 1180L197 1010L515 1237Z" transform="translate(18.06 9.35) scale(0.006299 -0.006299)" stroke-width="47.6"/>
<path class="one" d="M515 0L696 0L696 1409L530 1409L197 1180L197 1010L515 1237Z" transform="translate(271.67 23.80) scale(0.005615 -0.005615)" stroke-width="53.4"/>
<path class="one" d="M515 0L696 0L696 1409L530 1409L197 1180L197 1010L515 1237Z" transform="translate(427.47 240.90) scale(0.006299 -0.006299)" stroke-width="47.6"/>
<path class="one" d="M515 0L696 0L696 1409L530 1409L197 1180L197 1010L515 1237Z" transform="translate(364.46 106.99) scale(0.006299 -0.006299)" stroke-width="47.6"/>
<path class="one" d="M515 0L696 0L696 1409L530 1409L197 1180L197 1010L515 1237Z" transform="translate(364.46 82.78) scale(0.006299 -0.006299)" stroke-width="47.6"/>
<path class="one" d="M515 0L696 0L696 1409L530 1409L197 1180L197 1010L515 1237Z" transform="translate(364.46 58.57) scale(0.006299 -0.006299)" stroke-width="47.6"/>
<path class="one" d="M515 0L696 0L696 1409L530 1409L197 1180L197 1010L515 1237Z" transform="translate(364.46 34.36) scale(0.006299 -0.006299)" stroke-width="47.6"/>
<path class="one" d="M515 0L696 0L696 1409L530 1409L197 1180L197 1010L515 1237Z" transform="translate(364.46 10.15) scale(0.006299 -0.006299)" stroke-width="47.6"/>
<path class="one" d="M515 0L696 0L696 1409L530 1409L197 1180L197 1010L515 1237Z" transform="translate(614.27 25.80) scale(0.005615 -0.005615)" stroke-width="53.4"/>
</svg>
</body></html>
